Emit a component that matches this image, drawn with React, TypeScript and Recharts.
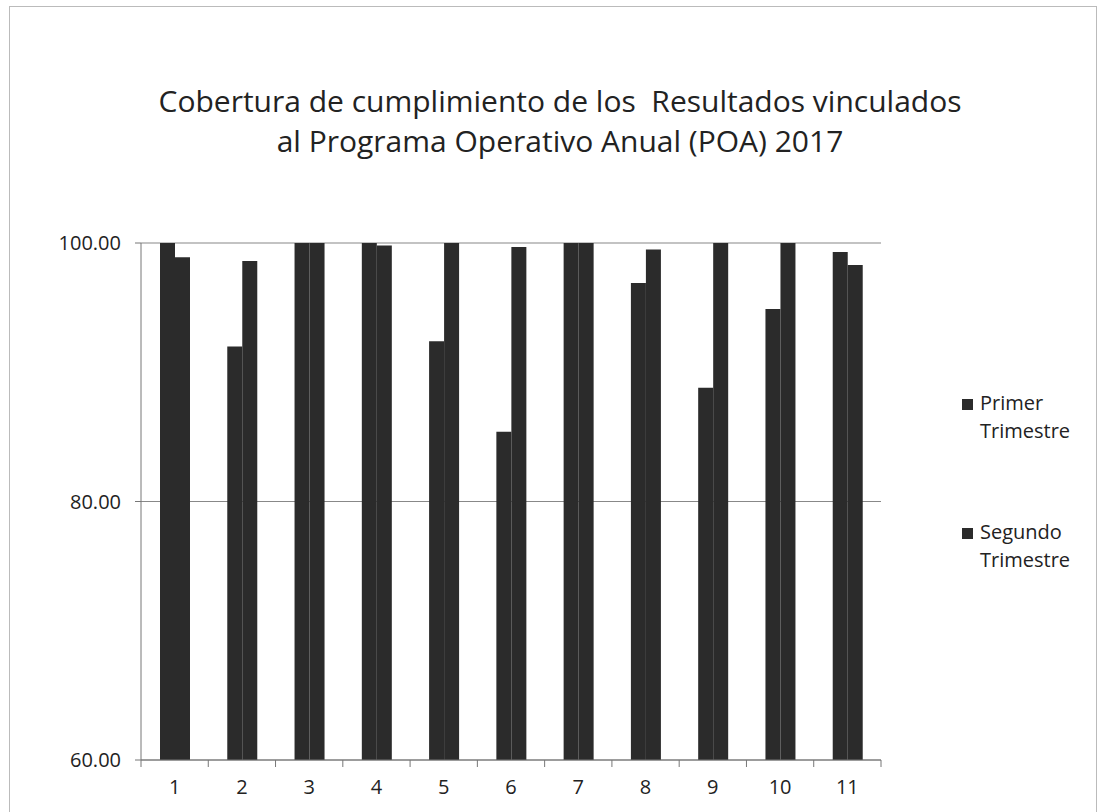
import React from 'react';
import { BarChart, Bar, XAxis, YAxis, CartesianGrid } from 'recharts';

const categories = ['1', '2', '3', '4', '5', '6', '7', '8', '9', '10', '11'];
const primerTrimestre = [100, 92.0, 100, 100, 92.4, 85.4, 100, 96.9, 88.8, 94.9, 99.3];
const segundoTrimestre = [98.9, 98.6, 100, 99.8, 100, 99.7, 100, 99.5, 100, 100, 98.3];
const yTicks = [60, 80, 100];

const data = categories.map((name, i) => ({
  name,
  primer: primerTrimestre[i],
  segundo: segundoTrimestre[i],
}));

const W = 1101;
const H = 812;
const PLOT_LEFT = 141;
const PLOT_RIGHT = 881;
const BAND = (PLOT_RIGHT - PLOT_LEFT) / categories.length;
const FONT = '"Open Sans", sans-serif';
const BAR = '#2b2b2b';

// Excel puts the tick marks between categories, not under them
const XTick = (props: any) => {
  const { x, y, payload, index } = props;
  const left = x - BAND / 2;
  return (
    <g>
      <line x1={left} y1={y - 8} x2={left} y2={y - 1} stroke="#777" />
      {index === categories.length - 1 && (
        <line x1={left + BAND} y1={y - 8} x2={left + BAND} y2={y - 1} stroke="#777" />
      )}
      <text x={x} y={y + 26} textAnchor="middle" fill="#222" fontSize={20} fontFamily={FONT}>
        {payload.value}
      </text>
    </g>
  );
};

const legendItems = [
  { label: ['Primer', 'Trimestre'], top: 389 },
  { label: ['Segundo', 'Trimestre'], top: 518 },
];

export default function App() {
  return (
    <div style={{ position: 'fixed', left: 0, top: 0, width: W, height: H, background: '#fff' }}>
      <div
        style={{
          position: 'absolute',
          left: 9,
          top: 6,
          width: 1086,
          height: 820,
          border: '1px solid #bbb',
        }}
      />
      <div
        style={{
          position: 'absolute',
          left: 0,
          top: 81,
          width: 1120,
          textAlign: 'center',
          fontFamily: FONT,
          fontSize: 30,
          lineHeight: '40px',
          color: '#222',
        }}
      >
        Cobertura de cumplimiento de los&nbsp; Resultados vinculados
        <br />
        al Programa Operativo Anual (POA) 2017
      </div>
      <div style={{ position: 'absolute', left: 0, top: 0 }}>
        <BarChart
          width={W}
          height={H}
          data={data}
          margin={{ top: 243, right: W - PLOT_RIGHT, bottom: 12, left: 11 }}
          barGap={0}
          barSize={15}
        >
          <CartesianGrid vertical={false} stroke="#888" strokeWidth={1.2} />
          <XAxis
            dataKey="name"
            height={40}
            axisLine={{ stroke: '#777' }}
            tickLine={false}
            tick={<XTick />}
            interval={0}
          />
          <YAxis
            width={PLOT_LEFT - 11}
            domain={[60, 100]}
            ticks={yTicks}
            allowDataOverflow
            axisLine={{ stroke: '#777' }}
            tickLine={{ stroke: '#777' }}
            tickSize={6}
            tickMargin={14}
            tickFormatter={(v: number) => v.toFixed(2)}
            tick={{ fontSize: 20, fill: '#222', fontFamily: FONT }}
          />
          <Bar dataKey="primer" fill={BAR} isAnimationActive={false} />
          <Bar dataKey="segundo" fill={BAR} isAnimationActive={false} />
        </BarChart>
      </div>
      {legendItems.map((item) => (
        <div
          key={item.label[0]}
          style={{
            position: 'absolute',
            left: 980,
            top: item.top,
            fontFamily: FONT,
            fontSize: 20,
            lineHeight: '28px',
            color: '#222',
          }}
        >
          <span
            style={{
              display: 'inline-block',
              width: 11,
              height: 11,
              background: BAR,
              marginRight: 7,
              marginLeft: -18,
            }}
          />
          {item.label[0]}
          <br />
          {item.label[1]}
        </div>
      ))}
    </div>
  );
}
